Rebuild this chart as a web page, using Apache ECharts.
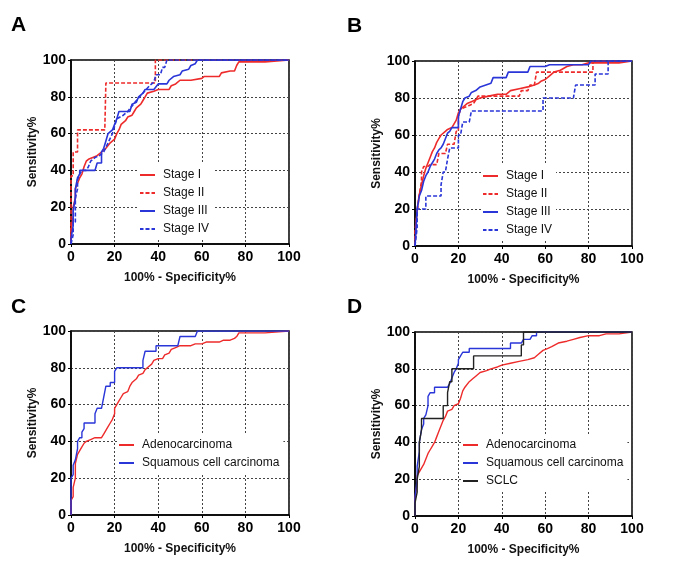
<!DOCTYPE html>
<html>
<head>
<meta charset="utf-8">
<script src="https://cdn.jsdelivr.net/npm/echarts@6/dist/echarts.min.js"></script>
<style>
  html, body { margin: 0; padding: 0; background: #fff; }
  #chart { width: 685px; height: 575px; }
</style>
</head>
<body>
<div id="chart"></div>
<script>
// panel A: ROC by stage
const aStage1 = [[0,0],[0,8],[1,15],[1,20],[2,25],[2,30],[3,33],[4,36],[5,38],[6,42],[7,45],[8,46],[10,47],[12,48],[14,50],[16,52],[18,55],[20,57],[21,60],[22,62],[23,65],[25,67],[26,69],[28,70],[29,72],[30,74],[32,76],[33,78],[34,80],[35,82],[38,83],[40,84],[45,84],[46,86],[48,87],[50,89],[55,89],[60,90],[61,91],[68,91],[69,93],[73,94],[75,94],[76,97],[77,99],[89,99],[89,100],[100,100]]
const aStage2 = [[0,0],[0,37],[1,37],[1,50],[3,50],[3,62],[15.5,62],[16,87.5],[38.7,87.5],[38.7,100],[100,100]]
const aStage3 = [[0,0],[0,3],[1,10],[1,18],[2,25],[2,30],[3,36],[4,38],[4,40],[11,40],[12,44],[14,44],[14,50],[15,52],[16,56],[17,60],[19,62],[20,65],[21,68],[22,72],[27,72],[28,76],[30,77],[31,80],[33,82],[34,84],[38,84],[40,87],[44,87],[45,89],[47,91],[50,92],[51,94],[54,95],[55,97],[57,98],[58,100],[100,100]]
const aStage4 = [[0,0],[1,5],[1,12],[2,12],[2,25],[3,30],[3,35],[4,38],[5,40],[7,40],[8,42],[9,45],[11,47],[13,48],[15,50],[17,55],[19,60],[20,64],[21,68],[24,70],[26,72],[28,75],[30,78],[33,82],[36,86],[38,88],[39,92],[41,92],[42,96],[43,96],[44,100],[100,100]]

// panel B: ROC by stage
const bStage1 = [[0,0],[0.5,12],[1,20],[2,28],[3,33],[4,38],[5,42],[6,45],[7,48],[8,51],[9,53],[10,56],[11,58],[12,60],[14,62],[15,63],[17,64],[18,66],[19,68],[20,72],[21,74],[22,75],[24,77],[26,78],[28,79],[30,80],[34,81],[38,82],[42,82],[44,84],[48,85],[52,86],[55,87],[57,88],[58,89],[60,90],[62,92],[64,94],[67,95],[70,97],[73,98],[77,98],[80,99],[94,99],[94,100],[100,100]]
const bStage2 = [[0,0],[0,8],[1,18],[2,28],[3,35],[3,40],[4,43],[6,43],[7,44],[10,44],[11,50],[14,50],[15,55],[18,55],[19,62],[20,62],[20,70],[21,74],[23,75],[25,76],[27,77],[28,79],[29,81],[48,81],[49,84],[52,84],[53,87],[55,87],[56,94],[82,94],[82,100],[100,100]]
const bStage3 = [[0,0],[0.5,10],[1,20],[2,27],[3,30],[4,35],[5,38],[6,40],[7,43],[8,45],[9,47],[10,50],[11,52],[12,53],[13,55],[14,58],[15,61],[16,62],[17,64],[20,64],[20,70],[21,74],[22,78],[23,80],[25,81],[26,83],[28,84],[30,86],[35,88],[36,91],[42,91],[43,94],[52,94],[53,97],[60,97],[62,98],[80,98],[81,100],[100,100]]
const bStage4 = [[0,0],[1,10],[1,20],[5,20],[5,27],[12,27],[12,33],[13,40],[14,40],[15,47],[16,53],[20,53],[20,60],[21,60],[22,67],[25,67],[26,73],[59,73],[59,80],[73,80],[74,87],[83,87],[83,93],[89,93],[89,100],[100,100]]

// panel C: adeno vs squamous
const cAdeno = [[0,0],[0,8],[1,10],[1,15],[2,20],[2,28],[3,33],[4,35],[5,37],[6,39],[7,40],[9,41],[11,42],[14,42],[15,44],[16,46],[17,48],[18,50],[19,52],[20,55],[20,58],[21,60],[22,62],[23,64],[24,66],[26,67],[27,70],[28,72],[30,74],[31,76],[33,77],[34,79],[35,80],[37,82],[38,84],[40,85],[42,85],[43,87],[45,88],[46,90],[48,91],[50,92],[55,92],[57,93],[60,93],[62,94],[68,94],[70,95],[73,95],[75,96],[76,97],[77,99],[89,99],[89,100],[100,100]]
const cSquam = [[0,0],[0,20],[1,22],[1,27],[2,30],[3,36],[3,40],[4,42],[5,42],[5,45],[6,47],[6,50],[11,50],[11,55],[12,58],[14,58],[15,64],[16,70],[18,70],[18,72],[20,72],[20,78],[21,80],[33,80],[33,84],[34,89],[39,89],[39,92],[49,92],[50,97],[57,97],[58,100],[100,100]]

// panel D: adeno vs squamous vs SCLC
const dAdeno = [[0,0],[0,10],[1,18],[1,22],[2,24],[3,26],[4,28],[5,31],[6,34],[7,36],[8,38],[9,40],[10,43],[11,46],[12,49],[13,52],[14,54],[15,57],[17,58],[18,60],[20,61],[21,64],[22,68],[23,70],[25,73],[27,75],[28,76],[30,78],[33,79],[35,80],[38,81],[40,82],[44,83],[48,84],[52,85],[55,86],[57,88],[59,90],[61,91],[63,92],[66,94],[70,95],[73,96],[76,97],[80,98],[85,98],[88,99],[94,99],[94,100],[100,100]]
const dSquam = [[0,0],[0,10],[1,20],[1,27],[2,35],[2,40],[3,47],[4,50],[4,53],[5,55],[6,60],[6,65],[7,67],[9,67],[9,70],[15,70],[16,72],[17,75],[18,78],[19,80],[20,83],[20,85],[21,87],[22,89],[25,89],[25,91],[44,91],[44,94],[49,94],[50,96],[53,96],[54,98],[56,98],[56,100],[100,100]]
const dSclc = [[0,0],[0,7],[1,13],[1,20],[2,27],[2,40],[3,47],[3,53],[13,53],[13,60],[15,60],[15,67],[16,73],[17,73],[17,80],[27,80],[27,87],[49,87],[49,93],[50,93],[50,100],[100,100]]

const RED = '#ee2b2b'
const BLUE = '#2a36d8'
const BLACK = '#222222'
const FONT = 'Arial, "Liberation Sans", sans-serif'
// legend line samples (solid / dashed), drawn as thin filled bars
const SOLID_ICON = 'path://M0,0H15V2H0Z'
const DASH_ICON = 'path://M0,0H3.5V2H0Z M5.5,0H9.5V2H5.5Z M11.5,0H15V2H11.5Z'

const grids = [
  { left: 71, top: 60, width: 218, height: 184 },
  { left: 415, top: 61, width: 217, height: 185 },
  { left: 71, top: 331, width: 218, height: 184 },
  { left: 415, top: 332, width: 217, height: 184 }
]

function xAx(i) {
  return {
    gridIndex: i, type: 'value', min: 0, max: 100, interval: 20,
    name: '100% - Specificity%', nameLocation: 'middle', nameGap: 28,
    nameTextStyle: { fontFamily: FONT, fontWeight: 'bold', fontSize: 12, color: '#111' },
    axisLine: { lineStyle: { color: '#000', width: 1.5 } },
    axisTick: { show: true, length: 3, lineStyle: { color: '#000' } },
    axisLabel: { fontFamily: FONT, fontWeight: 'bold', fontSize: 14, color: '#000', margin: 6 },
    splitLine: { show: true, lineStyle: { color: '#444', type: [2, 2], width: 1 } }
  }
}
function yAx(i) {
  return {
    gridIndex: i, type: 'value', min: 0, max: 100, interval: 20,
    name: 'Sensitivity%', nameLocation: 'middle', nameGap: 32,
    nameTextStyle: { fontFamily: FONT, fontWeight: 'bold', fontSize: 12, color: '#111' },
    axisLine: { lineStyle: { color: '#000', width: 1.5 } },
    axisTick: { show: true, length: 3, lineStyle: { color: '#000' } },
    axisLabel: { fontFamily: FONT, fontWeight: 'bold', fontSize: 14, color: '#000', margin: 5 },
    splitLine: { show: true, lineStyle: { color: '#444', type: [2, 2], width: 1 } }
  }
}
function line(name, data, i, color, dashed, w) {
  return {
    name: name, type: 'line', xAxisIndex: i, yAxisIndex: i, data: data,
    symbol: 'none', animation: false,
    lineStyle: { color: color, width: w, type: dashed ? [4, 2] : 'solid' },
    itemStyle: { color: color }
  }
}
function leg(items, left, top) {
  return {
    data: items.map(it => ({ name: it[0], icon: it[1] ? DASH_ICON : SOLID_ICON })),
    orient: 'vertical', left: left, top: top,
    itemWidth: 15, itemHeight: 2, itemGap: 0, symbolKeepAspect: false,
    padding: [2, 4, 2, 2], backgroundColor: '#fff', selectedMode: false,
    textStyle: { fontFamily: FONT, fontSize: 12, color: '#111', lineHeight: 18, padding: [0, 0, 0, 3] }
  }
}
const letters = ['A', 'B', 'C', 'D']
const letterPos = [[11, 15], [347, 16], [11, 297], [347, 297]]

const chart = echarts.init(document.getElementById('chart'))
chart.setOption({
  backgroundColor: '#fff',
  title: letters.map((t, i) => ({
    text: t, left: letterPos[i][0], top: letterPos[i][1], padding: 0,
    textStyle: { fontFamily: FONT, fontWeight: 'bold', fontSize: 21, color: '#000' }
  })),
  grid: grids.map(g => Object.assign({ show: true, borderColor: '#000', borderWidth: 1.5, backgroundColor: 'transparent' }, g)),
  xAxis: [0, 1, 2, 3].map(xAx),
  yAxis: [0, 1, 2, 3].map(yAx),
  legend: [
    leg([['Stage I', false], ['Stage II', true], ['Stage III', false], ['Stage IV', true]], 138, 164),
    leg([['Stage I', false], ['Stage II', true], ['Stage III', false], ['Stage IV', true]], 481, 165),
    leg([['Adenocarcinoma', false], ['Squamous cell carcinoma', false]], 117, 434),
    leg([['Adenocarcinoma', false], ['Squamous cell carcinoma', false], ['SCLC', false]], 461, 434)
  ],
  series: [
    line('Stage I', aStage1, 0, RED, false, 1.6),
    line('Stage II', aStage2, 0, RED, true, 1.6),
    line('Stage III', aStage3, 0, BLUE, false, 1.6),
    line('Stage IV', aStage4, 0, BLUE, true, 1.6),
    line('Stage I', bStage1, 1, RED, false, 1.6),
    line('Stage II', bStage2, 1, RED, true, 1.6),
    line('Stage III', bStage3, 1, BLUE, false, 1.6),
    line('Stage IV', bStage4, 1, BLUE, true, 1.6),
    line('Adenocarcinoma', cAdeno, 2, RED, false, 1.4),
    line('Squamous cell carcinoma', cSquam, 2, BLUE, false, 1.4),
    line('Adenocarcinoma', dAdeno, 3, RED, false, 1.4),
    line('Squamous cell carcinoma', dSquam, 3, BLUE, false, 1.4),
    line('SCLC', dSclc, 3, BLACK, false, 1.4)
  ]
})
</script>
</body>
</html>
